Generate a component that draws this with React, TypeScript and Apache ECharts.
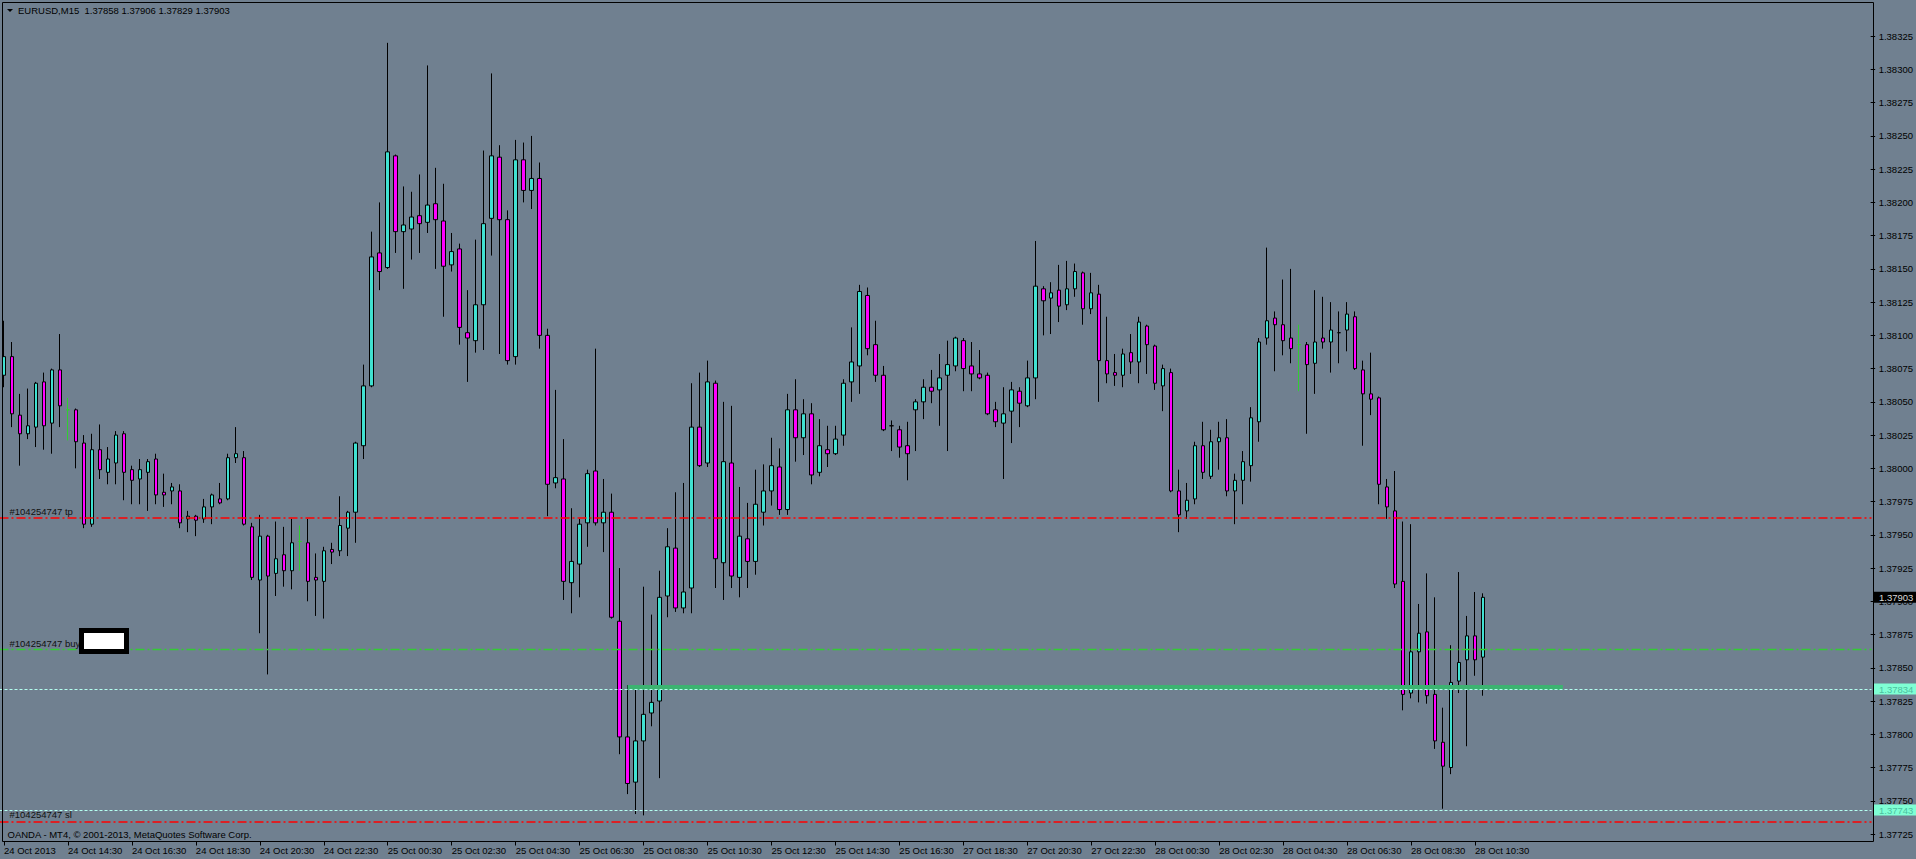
import React, { useEffect, useRef } from 'react';
import * as echarts from 'echarts';

const SYMBOL = 'EURUSD,M15';
const TICKET = '#104254747';
const COPYRIGHT = 'OANDA - MT4, \u00A9 2001-2013, MetaQuotes Software Corp.';

const openPrices = [
  1.38070, 1.38084, 1.38040, 1.38026, 1.38031, 1.38065, 1.38034, 1.38074, 1.38044, 1.38044,
  1.38019, 1.37958, 1.38014, 1.37997, 1.38004, 1.38026, 1.37999, 1.37992, 1.37997, 1.38007,
  1.37982, 1.37983, 1.37983, 1.37962, 1.37964, 1.37962, 1.37971, 1.37977, 1.37977, 1.38008,
  1.38008, 1.37956, 1.37916, 1.37949, 1.37921, 1.37935, 1.37923, 1.37945, 1.37944, 1.37918,
  1.37915, 1.37939, 1.37938, 1.37955, 1.37967, 1.38017, 1.38062, 1.38162, 1.38151, 1.38235,
  1.38178, 1.38180, 1.38190, 1.38185, 1.38199, 1.38186, 1.38153, 1.38165, 1.38102, 1.38096,
  1.38123, 1.38188, 1.38234, 1.38187, 1.38084, 1.38232, 1.38209, 1.38218, 1.38100, 1.37989,
  1.37992, 1.37914, 1.37928, 1.37959, 1.37998, 1.37959, 1.37967, 1.37885, 1.37798, 1.37764,
  1.37795, 1.37816, 1.37825, 1.37904, 1.37940, 1.37895, 1.37910, 1.38031, 1.38004, 1.38064,
  1.37929, 1.38004, 1.37918, 1.37947, 1.37930, 1.37967, 1.37983, 1.38001, 1.37969, 1.38044,
  1.38023, 1.38041, 1.37997, 1.38014, 1.38011, 1.38025, 1.38065, 1.38077, 1.38130, 1.38093,
  1.38070, 1.38032, 1.38029, 1.38017, 1.38044, 1.38050, 1.38061, 1.38059, 1.38070, 1.38077,
  1.38096, 1.38077, 1.38071, 1.38070, 1.38044, 1.38034, 1.38043, 1.38058, 1.38047, 1.38068,
  1.38135, 1.38128, 1.38134, 1.38123, 1.38135, 1.38147, 1.38120, 1.38131, 1.38081, 1.38072,
  1.38070, 1.38087, 1.38080, 1.38107, 1.38092, 1.38062, 1.38072, 1.37983, 1.37968, 1.37977,
  1.38017, 1.37994, 1.38020, 1.38023, 1.37983, 1.37991, 1.38002, 1.38035, 1.38098, 1.38113,
  1.38108, 1.38098, 1.38093, 1.38093, 1.38079, 1.38098, 1.38095, 1.38102, 1.38104, 1.38114,
  1.38074, 1.38056, 1.38053, 1.37986, 1.37968, 1.37915, 1.37831, 1.37862, 1.37877, 1.37830,
  1.37794, 1.37775, 1.37840, 1.37856, 1.37874, 1.37858,
];

const closePrices = [
  1.38084, 1.38041, 1.38026, 1.38032, 1.38064, 1.38032, 1.38074, 1.38047, 1.38044, 1.38020,
  1.37958, 1.38014, 1.37999, 1.38007, 1.38025, 1.37997, 1.37991, 1.37999, 1.38005, 1.37980,
  1.37980, 1.37986, 1.37959, 1.37964, 1.37961, 1.37971, 1.37980, 1.37974, 1.38008, 1.38011,
  1.37958, 1.37918, 1.37949, 1.37919, 1.37932, 1.37923, 1.37944, 1.37945, 1.37915, 1.37916,
  1.37938, 1.37937, 1.37957, 1.37967, 1.38019, 1.38062, 1.38159, 1.38148, 1.38238, 1.38178,
  1.38183, 1.38189, 1.38184, 1.38198, 1.38187, 1.38152, 1.38163, 1.38106, 1.38098, 1.38123,
  1.38184, 1.38235, 1.38187, 1.38081, 1.38232, 1.38209, 1.38218, 1.38100, 1.37988, 1.37993,
  1.37915, 1.37930, 1.37958, 1.37996, 1.37959, 1.37967, 1.37888, 1.37798, 1.37763, 1.37795,
  1.37815, 1.37824, 1.37903, 1.37941, 1.37895, 1.37907, 1.38031, 1.38002, 1.38065, 1.37932,
  1.38005, 1.37919, 1.37949, 1.37930, 1.37973, 1.37983, 1.38002, 1.37969, 1.38044, 1.38023,
  1.38041, 1.37995, 1.38017, 1.38011, 1.38022, 1.38064, 1.38080, 1.38133, 1.38090, 1.38070,
  1.38029, 1.38032, 1.38016, 1.38011, 1.38050, 1.38061, 1.38058, 1.38068, 1.38078, 1.38098,
  1.38075, 1.38071, 1.38068, 1.38041, 1.38035, 1.38041, 1.38059, 1.38049, 1.38068, 1.38137,
  1.38126, 1.38132, 1.38122, 1.38135, 1.38148, 1.38120, 1.38132, 1.38081, 1.38071, 1.38070,
  1.38086, 1.38080, 1.38110, 1.38093, 1.38064, 1.38075, 1.37983, 1.37965, 1.37976, 1.38017,
  1.37997, 1.38020, 1.38023, 1.37983, 1.37991, 1.38005, 1.38038, 1.38095, 1.38111, 1.38108,
  1.38096, 1.38090, 1.38093, 1.38078, 1.38095, 1.38095, 1.38104, 1.38102, 1.38116, 1.38075,
  1.38056, 1.38052, 1.37988, 1.37971, 1.37913, 1.37830, 1.37862, 1.37876, 1.37829, 1.37795,
  1.37776, 1.37839, 1.37854, 1.37874, 1.37856, 1.37903,
];

const lowPrices = [
  1.38061, 1.38031, 1.38002, 1.38022, 1.38016, 1.38014, 1.38011, 1.38031, 1.38021, 1.38000,
  1.37955, 1.37956, 1.37992, 1.37988, 1.37988, 1.37976, 1.37973, 1.37973, 1.37968, 1.37973,
  1.37971, 1.37973, 1.37955, 1.37952, 1.37949, 1.37959, 1.37958, 1.37973, 1.37976, 1.38004,
  1.37957, 1.37916, 1.37876, 1.37845, 1.37904, 1.37911, 1.37909, 1.37923, 1.37900, 1.37889,
  1.37887, 1.37928, 1.37934, 1.37934, 1.37944, 1.38007, 1.38061, 1.38134, 1.38150, 1.38162,
  1.38135, 1.38157, 1.38162, 1.38177, 1.38150, 1.38114, 1.38148, 1.38093, 1.38065, 1.38087,
  1.38089, 1.38160, 1.38086, 1.38078, 1.38078, 1.38200, 1.38195, 1.38090, 1.37964, 1.37985,
  1.37901, 1.37891, 1.37903, 1.37941, 1.37957, 1.37937, 1.37887, 1.37785, 1.37755, 1.37740,
  1.37739, 1.37806, 1.37767, 1.37888, 1.37892, 1.37891, 1.37891, 1.38001, 1.38001, 1.37910,
  1.37901, 1.37910, 1.37903, 1.37910, 1.37920, 1.37957, 1.37972, 1.37965, 1.37965, 1.38005,
  1.38010, 1.37988, 1.37994, 1.38001, 1.38010, 1.38017, 1.38050, 1.38056, 1.38085, 1.38065,
  1.38028, 1.38013, 1.38008, 1.37991, 1.38013, 1.38037, 1.38049, 1.38032, 1.38013, 1.38073,
  1.38058, 1.38058, 1.38067, 1.38040, 1.38031, 1.37992, 1.38019, 1.38031, 1.38046, 1.38052,
  1.38100, 1.38101, 1.38110, 1.38119, 1.38129, 1.38108, 1.38116, 1.38050, 1.38064, 1.38062,
  1.38061, 1.38071, 1.38064, 1.38071, 1.38059, 1.38043, 1.37982, 1.37952, 1.37962, 1.37973,
  1.37992, 1.37992, 1.37999, 1.37979, 1.37958, 1.37973, 1.37990, 1.38020, 1.38093, 1.38073,
  1.38085, 1.38079, 1.38058, 1.38026, 1.38056, 1.38090, 1.38072, 1.38079, 1.38088, 1.38074,
  1.38017, 1.38040, 1.37973, 1.37962, 1.37910, 1.37818, 1.37827, 1.37824, 1.37823, 1.37789,
  1.37744, 1.37770, 1.37831, 1.37791, 1.37844, 1.37829,
];

const highPrices = [
  1.38111, 1.38095, 1.38056, 1.38060, 1.38065, 1.38072, 1.38075, 1.38101, 1.38053, 1.38045,
  1.38025, 1.38026, 1.38033, 1.38016, 1.38028, 1.38028, 1.38002, 1.38007, 1.38007, 1.38011,
  1.37996, 1.37989, 1.37988, 1.37968, 1.37965, 1.37977, 1.37981, 1.37989, 1.38011, 1.38031,
  1.38013, 1.37959, 1.37965, 1.37950, 1.37960, 1.37956, 1.37962, 1.37957, 1.37962, 1.37936,
  1.37941, 1.37944, 1.37979, 1.37968, 1.38020, 1.38078, 1.38178, 1.38200, 1.38320, 1.38236,
  1.38212, 1.38208, 1.38221, 1.38303, 1.38226, 1.38214, 1.38177, 1.38169, 1.38134, 1.38172,
  1.38239, 1.38297, 1.38243, 1.38194, 1.38247, 1.38245, 1.38250, 1.38230, 1.38105, 1.38059,
  1.38022, 1.37970, 1.37962, 1.37999, 1.38090, 1.37992, 1.37981, 1.37925, 1.37837, 1.37837,
  1.37911, 1.37890, 1.37923, 1.37955, 1.37982, 1.37989, 1.38064, 1.38072, 1.38081, 1.38066,
  1.38050, 1.38047, 1.37986, 1.37974, 1.37999, 1.38003, 1.38023, 1.38015, 1.38056, 1.38067,
  1.38052, 1.38049, 1.38037, 1.38032, 1.38032, 1.38067, 1.38106, 1.38138, 1.38136, 1.38111,
  1.38077, 1.38036, 1.38032, 1.38035, 1.38052, 1.38067, 1.38074, 1.38086, 1.38096, 1.38099,
  1.38098, 1.38095, 1.38089, 1.38072, 1.38050, 1.38061, 1.38065, 1.38061, 1.38081, 1.38171,
  1.38137, 1.38140, 1.38153, 1.38156, 1.38154, 1.38148, 1.38147, 1.38138, 1.38114, 1.38086,
  1.38090, 1.38101, 1.38114, 1.38108, 1.38093, 1.38078, 1.38075, 1.37999, 1.37989, 1.38020,
  1.38035, 1.38029, 1.38035, 1.38037, 1.37996, 1.38013, 1.38046, 1.38098, 1.38166, 1.38118,
  1.38142, 1.38150, 1.38108, 1.38095, 1.38134, 1.38129, 1.38125, 1.38118, 1.38125, 1.38118,
  1.38081, 1.38087, 1.38054, 1.37992, 1.37998, 1.37960, 1.37958, 1.37898, 1.37921, 1.37903,
  1.37820, 1.37867, 1.37922, 1.37889, 1.37907, 1.37906,
];

// bars whose open equals close, drawn in the "line graph" green
const greenDojiBars = [8, 37, 162];

const timeTickLabels = [
  '24 Oct 2013', '24 Oct 14:30', '24 Oct 16:30', '24 Oct 18:30', '24 Oct 20:30', '24 Oct 22:30',
  '25 Oct 00:30', '25 Oct 02:30', '25 Oct 04:30', '25 Oct 06:30', '25 Oct 08:30', '25 Oct 10:30',
  '25 Oct 12:30', '25 Oct 14:30', '25 Oct 16:30', '27 Oct 18:30', '27 Oct 20:30', '27 Oct 22:30',
  '28 Oct 00:30', '28 Oct 02:30', '28 Oct 04:30', '28 Oct 06:30', '28 Oct 08:30', '28 Oct 10:30',
];

const priceTickValues = [
  1.37725, 1.37750, 1.37775, 1.37800, 1.37825, 1.37850, 1.37875, 1.37900, 1.37925, 1.37950,
  1.37975, 1.38000, 1.38025, 1.38050, 1.38075, 1.38100, 1.38125, 1.38150, 1.38175, 1.38200,
  1.38225, 1.38250, 1.38275, 1.38300, 1.38325,
];

const takeProfitLevel = 1.37963;
const openOrderLevel = 1.37864;
const stopLossLevel = 1.37734;
const alertLevels = [1.37834, 1.37743];
const trendLevel = 1.37835;
const trendStartBar = 78;
const trendEndBar = 195;

const TOTAL_SLOTS = 234;
const BARS_PER_LABEL = 8;
const Y_MIN = 1.3771936;
const Y_MAX = 1.3835033;

const FONT = 'Liberation Sans';
const FS = 9.5;

export default function App() {
  const ref = useRef<HTMLDivElement>(null);

  useEffect(() => {
    document.body.style.margin = '0';
    document.body.style.background = '#708090';
    const chart = echarts.init(ref.current!, null, { renderer: 'svg' });

    const categories = Array.from({ length: TOTAL_SLOTS }, (_, i) => `b${i}`);
    const candles = openPrices.map((o, i) => {
      const value = [o, closePrices[i], lowPrices[i], highPrices[i]];
      if (greenDojiBars.includes(i)) {
        return {
          value,
          itemStyle: {
            color: '#32cd32', color0: '#32cd32',
            borderColor: '#32cd32', borderColor0: '#32cd32', borderColorDoji: '#32cd32',
          },
        };
      }
      return value;
    });

    const last = openPrices.length - 1;
    const header = `${SYMBOL}  ${openPrices[last].toFixed(5)} ${highPrices[last].toFixed(5)} ${lowPrices[last].toFixed(5)} ${closePrices[last].toFixed(5)}`;

    const showTick = (i: number) => i % BARS_PER_LABEL === 0 && i / BARS_PER_LABEL < timeTickLabels.length;

    const dashDot = [9, 3, 2, 3];
    const leftLabel = (text: string, dy: number) => ({
      show: true, position: 'insideStartTop', formatter: text, distance: [10, dy],
      color: '#111', fontFamily: FONT, fontSize: FS,
    });
    const endLabel = (value: number, bg: string, fg: string) => ({
      show: true, position: 'end', distance: 2.5,
      formatter: value.toFixed(5),
      backgroundColor: bg, color: fg, fontFamily: FONT, fontSize: FS,
      lineHeight: 10, padding: [1, 3, 0, 5],
    });

    const levelLine = (value: number, lineStyle: any, label: any) => [
      { coord: [categories[0], value], x: -0.5, lineStyle, label },
      { coord: [categories[TOTAL_SLOTS - 1], value], x: 1871.5 },
    ];

    const option: any = {
      animation: false,
      backgroundColor: '#708090',
      grid: { left: -0.5, top: 2.5, width: 1872, height: 839, show: false },
      xAxis: {
        type: 'category',
        data: categories,
        boundaryGap: true,
        axisLine: { show: false },
        axisTick: {
          show: true, interval: showTick, alignWithLabel: true, length: 4,
          lineStyle: { color: '#000', width: 1 },
        },
        axisLabel: {
          interval: showTick,
          formatter: (_v: string, i: number) => timeTickLabels[i / BARS_PER_LABEL] ?? '',
          align: 'left', margin: 4, color: '#000', fontFamily: FONT, fontSize: FS,
        },
        splitLine: { show: false },
      },
      yAxis: {
        type: 'value',
        position: 'right',
        min: Y_MIN,
        max: Y_MAX,
        scale: true,
        splitLine: { show: false },
        axisLine: { show: false },
        axisTick: {
          show: true, length: 4.5, customValues: priceTickValues,
          lineStyle: { color: '#000', width: 1 },
        },
        axisLabel: {
          customValues: priceTickValues,
          formatter: (v: number) => v.toFixed(5),
          margin: 8, color: '#000', fontFamily: FONT, fontSize: FS,
        },
      },
      series: [
        {
          type: 'candlestick',
          data: candles,
          barWidth: 4,
          z: 2,
          itemStyle: {
            color: '#40e0d0', color0: '#ff00ff',
            borderColor: '#000', borderColor0: '#000', borderColorDoji: '#000', borderWidth: 1,
          },
        },
        {
          type: 'line',
          name: 'levels',
          data: [],
          z: 3,
          silent: true,
          markLine: {
            silent: true,
            symbol: ['none', 'none'],
            animation: false,
            data: [
              [
                {
                  coord: [categories[trendStartBar], trendLevel],
                  lineStyle: { color: '#3cb371', width: 5, type: 'solid' },
                  label: { show: false },
                },
                { coord: [categories[trendEndBar], trendLevel] },
              ],
              levelLine(takeProfitLevel, { color: '#ff0000', width: 1.5, type: dashDot }, leftLabel(`${TICKET} tp`, 1)),
              levelLine(openOrderLevel, { color: '#33cc33', width: 1.3, type: dashDot }, leftLabel(`${TICKET} buy`, 1)),
              ...alertLevels.map((lv) =>
                levelLine(lv, { color: '#b4fff0', width: 1, type: [3, 2] }, endLabel(lv, '#7fffd4', '#4cbf9f'))),
              levelLine(stopLossLevel, { color: '#ff0000', width: 1.5, type: dashDot }, leftLabel(`${TICKET} sl`, 3)),
              levelLine(closePrices[last], { color: 'rgba(0,0,0,0)', width: 1 }, endLabel(closePrices[last], '#000000', '#d8d8d8')),
            ],
          },
        },
      ],
      graphic: [
        {
          type: 'rect',
          shape: { x: 2.5, y: 2.5, width: 1871, height: 839 },
          style: { fill: 'none', stroke: '#000', lineWidth: 1 },
          z: 100, silent: true,
        },
        {
          type: 'polygon',
          shape: { points: [[7, 9], [13, 9], [10, 12]] },
          style: { fill: '#000' },
          z: 100, silent: true,
        },
        {
          type: 'text',
          x: 18, y: 10.5,
          style: { text: header, fill: '#000', font: `${FS}px "${FONT}"`, verticalAlign: 'middle' },
          z: 100, silent: true,
        },
        {
          type: 'text',
          x: 7.5, y: 834,
          style: { text: COPYRIGHT, fill: '#000', font: `${FS}px "${FONT}"`, verticalAlign: 'middle' },
          z: 100, silent: true,
        },
        {
          type: 'rect',
          shape: { x: 81.5, y: 630.5, width: 45, height: 21 },
          style: { fill: '#ffffff', stroke: '#000', lineWidth: 5 },
          z: 100, silent: true,
        },
      ],
    };

    chart.setOption(option);
    return () => chart.dispose();
  }, []);

  return <div ref={ref} style={{ width: 1916, height: 859 }} />;
}
